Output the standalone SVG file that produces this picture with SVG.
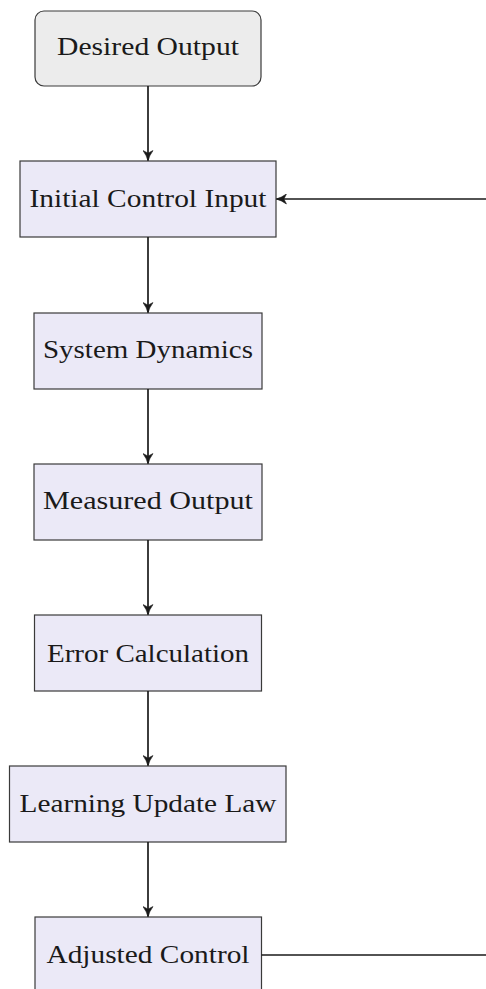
<svg xmlns="http://www.w3.org/2000/svg" width="486" height="989" viewBox="0 0 486 989">
<style>
.box{fill:#ebe9f7;stroke:#3a3a3a;stroke-width:1.2}
.start{fill:#ececec;stroke:#3a3a3a;stroke-width:1.2}
.lbl{font-family:"Liberation Serif","DejaVu Serif",serif;font-size:25px;fill:#1a1a1a;text-anchor:middle}
.edge{fill:none;stroke:#1a1a1a;stroke-width:1.7}
</style>
<defs>
<marker id="arr" viewBox="0 0 10 10" refX="9.5" refY="5" markerWidth="11" markerHeight="11" markerUnits="userSpaceOnUse" orient="auto">
<path d="M0.5,0.5 Q5,3.8 9.8,5 Q5,6.2 0.5,9.5 L2.8,5 Z" fill="#1a1a1a" stroke="#1a1a1a" stroke-width="0.6" stroke-linejoin="round"/>
</marker>
</defs>
<rect width="486" height="989" fill="#ffffff"/>
<g id="desired">
<rect class="start" x="35" y="11" width="226" height="75" rx="9"/>
<text class="lbl" x="148" y="55" textLength="182" lengthAdjust="spacingAndGlyphs">Desired Output</text>
</g>
<g id="initial">
<rect class="box" x="20" y="161" width="256" height="76"/>
<text class="lbl" x="148" y="207" textLength="237" lengthAdjust="spacingAndGlyphs">Initial Control Input</text>
</g>
<g id="system">
<rect class="box" x="34" y="313" width="228" height="76"/>
<text class="lbl" x="148" y="358" textLength="210" lengthAdjust="spacingAndGlyphs">System Dynamics</text>
</g>
<g id="measured">
<rect class="box" x="34" y="464" width="228" height="76"/>
<text class="lbl" x="148" y="509" textLength="210" lengthAdjust="spacingAndGlyphs">Measured Output</text>
</g>
<g id="error">
<rect class="box" x="34.5" y="615" width="227" height="76"/>
<text class="lbl" x="148" y="662" textLength="202" lengthAdjust="spacingAndGlyphs">Error Calculation</text>
</g>
<g id="learning">
<rect class="box" x="9.5" y="766" width="276.5" height="76"/>
<text class="lbl" x="148" y="812" textLength="257" lengthAdjust="spacingAndGlyphs">Learning Update Law</text>
</g>
<g id="adjusted">
<rect class="box" x="35" y="917" width="226.5" height="76"/>
<text class="lbl" x="148" y="963" textLength="203" lengthAdjust="spacingAndGlyphs">Adjusted Control</text>
</g>
<g id="connectors">
<line class="edge" x1="148" y1="86" x2="148" y2="160.5" marker-end="url(#arr)"/>
<line class="edge" x1="148" y1="237" x2="148" y2="312.5" marker-end="url(#arr)"/>
<line class="edge" x1="148" y1="389" x2="148" y2="463.5" marker-end="url(#arr)"/>
<line class="edge" x1="148" y1="540" x2="148" y2="614.5" marker-end="url(#arr)"/>
<line class="edge" x1="148" y1="691" x2="148" y2="765.5" marker-end="url(#arr)"/>
<line class="edge" x1="148" y1="842" x2="148" y2="916.5" marker-end="url(#arr)"/>
<line class="edge" x1="261.5" y1="955" x2="486" y2="955"/>
<line class="edge" x1="486" y1="199" x2="276.5" y2="199" marker-end="url(#arr)"/>
</g>
</svg>
